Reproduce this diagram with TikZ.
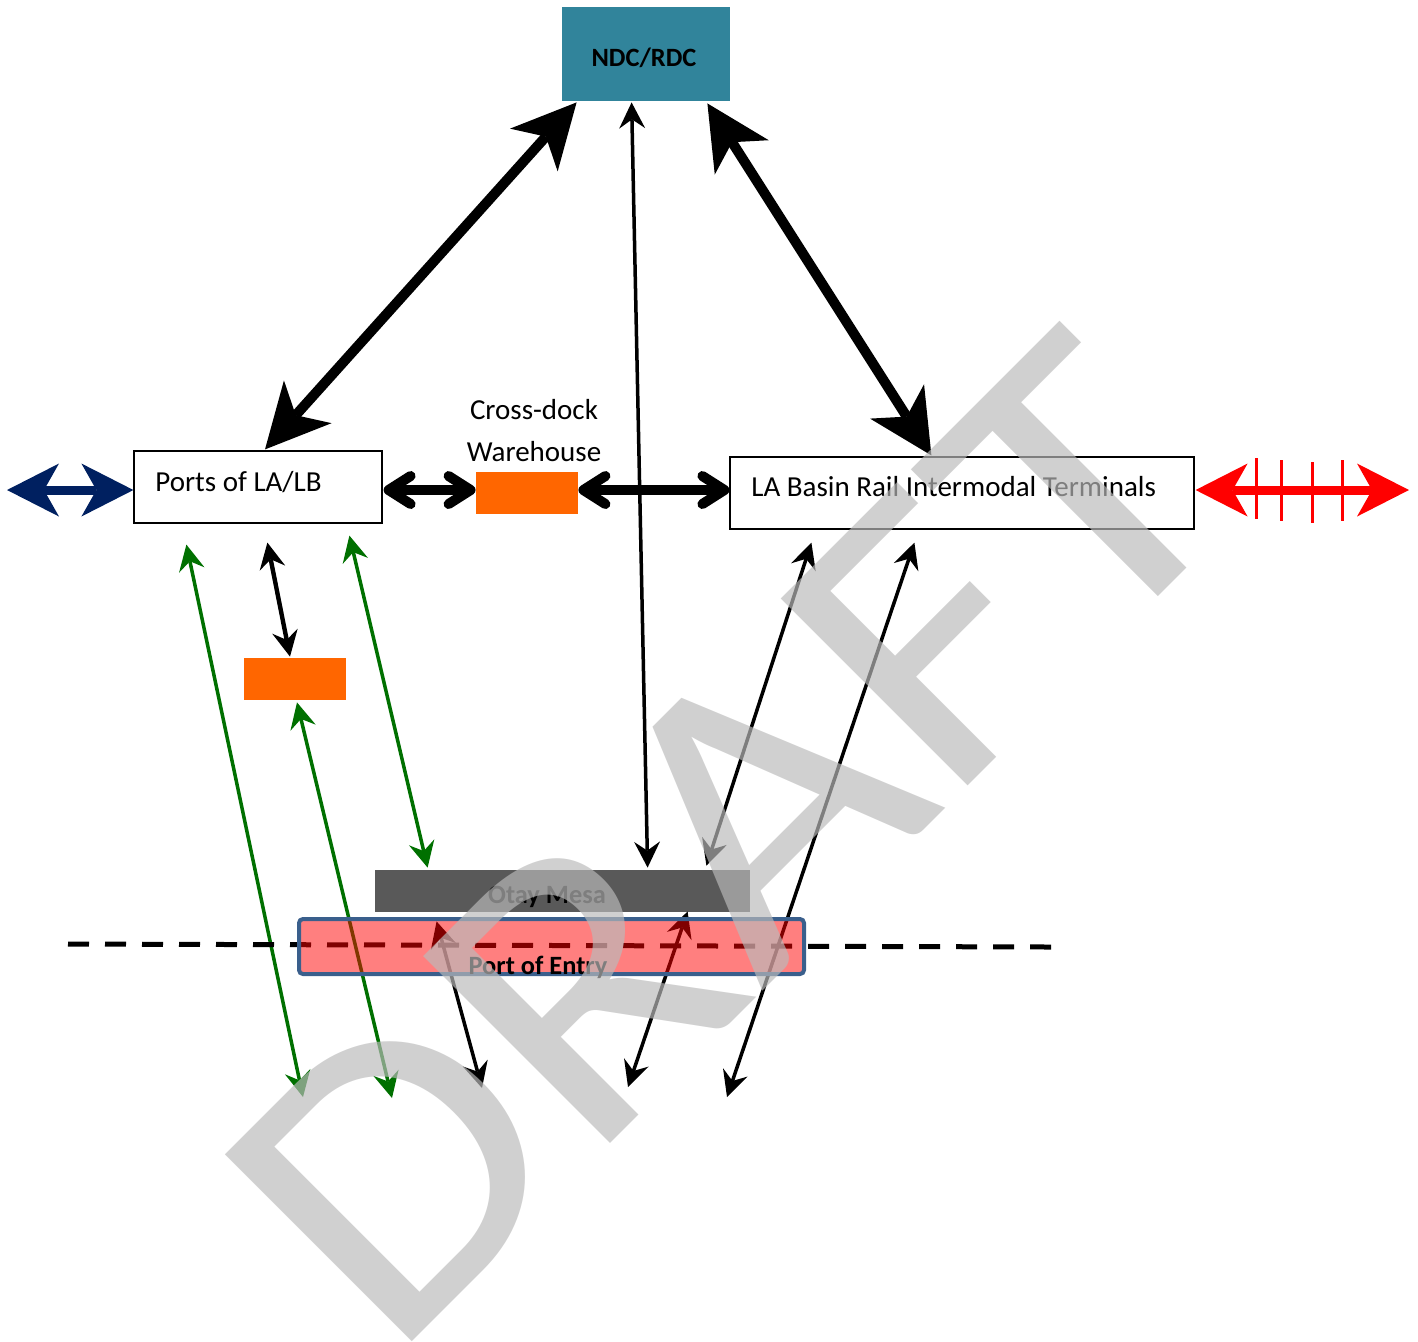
\documentclass[tikz,border=0pt]{standalone}
\usepackage{fontspec}
\setmainfont{Carlito}
\usepackage{graphicx}
\usetikzlibrary{arrows.meta,calc}

\definecolor{ndcteal}{RGB}{49,132,155}
\definecolor{xorange}{RGB}{255,102,0}
\definecolor{otaygray}{RGB}{89,89,89}
\definecolor{poeblue}{RGB}{58,95,140}
\definecolor{navy}{RGB}{0,32,96}
\definecolor{flowgreen}{RGB}{0,112,0}
\definecolor{wmgray}{RGB}{186,186,186}

\begin{document}
\begin{tikzpicture}[x=0.5pt,y=-0.5pt,
  labelfont/.style={font=\fontsize{14.5}{17.4}\selectfont},
  boldfont/.style={font=\fontsize{13.2}{16}\selectfont\bfseries},
  framebox/.style={draw=black, line width=0.6pt, fill=white, inner sep=0pt},
  plainbox/.style={inner sep=0pt, minimum width=51pt, minimum height=21pt},
  txt/.style={inner sep=0pt, anchor=base},
  bigflow/.style={line width=5pt,
    {Stealth[length=32pt,width=32pt,inset=9pt,line width=0pt]}-{Stealth[length=32pt,width=32pt,inset=9pt,line width=0pt]}},
  dockflow/.style={line width=5pt,
    {Straight Barb[length=11pt,width=14pt,round]}-{Straight Barb[length=11pt,width=14pt,round]}},
  thinflow/.style={line width=1.75pt,
    {Stealth[length=13pt,width=13pt,inset=4.5pt,line width=0pt]}-{Stealth[length=13pt,width=13pt,inset=4.5pt,line width=0pt]}},
  greenflow/.style={thinflow, draw=flowgreen, fill=flowgreen},
  blockflow/.style={line width=4.5pt,
    {Stealth[length=26pt,width=26.5pt,inset=7.5pt,line width=0pt]}-{Stealth[length=26pt,width=26.5pt,inset=7.5pt,line width=0pt]}},
]
\useasboundingbox (0,0) rectangle (1418,1341);

% ---- boxes ----
\node[fill=ndcteal, inner sep=0pt, minimum width=84pt, minimum height=47pt] (ndc) at (646,54) {};
\node[txt, boldfont] (ndcText) at (644,66) {NDC/RDC};

\node[framebox, minimum width=124pt, minimum height=36pt] (ports) at (258,487) {};
\node[labelfont, inner sep=0pt, anchor=base west] (portsText) at (155,491) {Ports of LA/LB};

\node[framebox, minimum width=232pt, minimum height=36pt] (la) at (962,493) {};
\node[labelfont, inner sep=0pt, anchor=base west] (laText) at (751,496) {LA Basin Rail Intermodal Terminals};

\node[plainbox, fill=xorange] (xdock) at (527,493) {};
\node[txt, labelfont] (xdockTop) at (534,419) {Cross-dock};
\node[txt, labelfont] (xdockBot) at (534,461) {Warehouse};

\node[plainbox, fill=xorange] (trans) at (295,679) {};

\node[fill=otaygray, inner sep=0pt, minimum width=187.5pt, minimum height=21pt] (otay) at (562.5,891) {};
\node[txt, boldfont] (otayText) at (547,903) {Otay Mesa};

% ---- free ends ----
\coordinate (navyEnd) at (7,490);
\coordinate (redEnd) at (1409,490);
\coordinate (g1End) at (303,1097);
\coordinate (g2End) at (392,1098);
\coordinate (b1End) at (482,1088);
\coordinate (b2End) at (628,1087);
\coordinate (b3End) at (727,1097);
\coordinate (borderW) at (68,944);
\coordinate (borderE) at (1052,947);

% ---- main corridors ----
\draw[bigflow] ($(ndc.south west)+(15,1)$) -- ($(ports.north)+(7,-1)$);
\draw[bigflow] ($(ndc.south east)+(-23,2)$) -- ($(la.north west)+(202,-1)$);

\draw[dockflow] ($(ports.east)+(1,3)$) -- ($(xdock.west)+(0,-3)$);
\draw[dockflow] ($(xdock.east)+(0,-3)$) -- ($(la.west)+(0,-3)$);

\draw[blockflow, draw=navy, fill=navy] (navyEnd) -- ($(ports.west)+(0,3)$);
\draw[blockflow, draw=red, fill=red] ($(la.east)+(1,-3)$) -- (redEnd);
\foreach \tx/\ty/\tb in {1256/458/519, 1281/460/521, 1312/462/523, 1342/460/521}
  \draw[red, line width=1.5pt] (\tx,\ty) -- (\tx,\tb);

% ---- thin flows ----
\draw[thinflow] ($(ndc.south west)+(70,1)$) -- ($(otay.north west)+(273,-2)$);
\draw[thinflow, line width=2.2pt] ($(ports.south west)+(134,19)$) -- ($(trans.north)+(-5,-1)$);

\draw[greenflow] ($(ports.south west)+(53,21)$) -- (g1End);
\draw[greenflow] ($(trans.south)+(2,2)$) -- (g2End);
\draw[greenflow] ($(ports.south west)+(216,12)$) -- ($(otay.north west)+(53,-2)$);

\draw[thinflow] ($(otay.south west)+(62,9)$) -- (b1End);
\draw[thinflow] ($(otay.south west)+(313,-1)$) -- (b2End);
\draw[thinflow] ($(la.south west)+(82,13)$) -- ($(otay.north east)+(-44,-4)$);
\draw[thinflow] ($(la.south west)+(185,13)$) -- (b3End);

% ---- border line and port of entry ----
\draw[line width=2.5pt, dash pattern=on 10.5pt off 8pt] (borderW) -- (borderE);
\node[draw=poeblue, line width=2pt, fill=red, fill opacity=0.5, rounded corners=2pt,
      inner sep=0pt, minimum width=252.5pt, minimum height=27.5pt] (poe) at (551.5,946.5) {};
\node[txt, boldfont] (poeText) at (538,974) {Port of Entry};

% ---- watermark ----
\node[rotate=45, anchor=base west, inner sep=0pt, text=wmgray, opacity=0.68] (wm) at (390,1364)
  {\fontsize{206}{206}\selectfont\scalebox{1.1}[1]{DRAFT}};
\end{tikzpicture}
\end{document}
